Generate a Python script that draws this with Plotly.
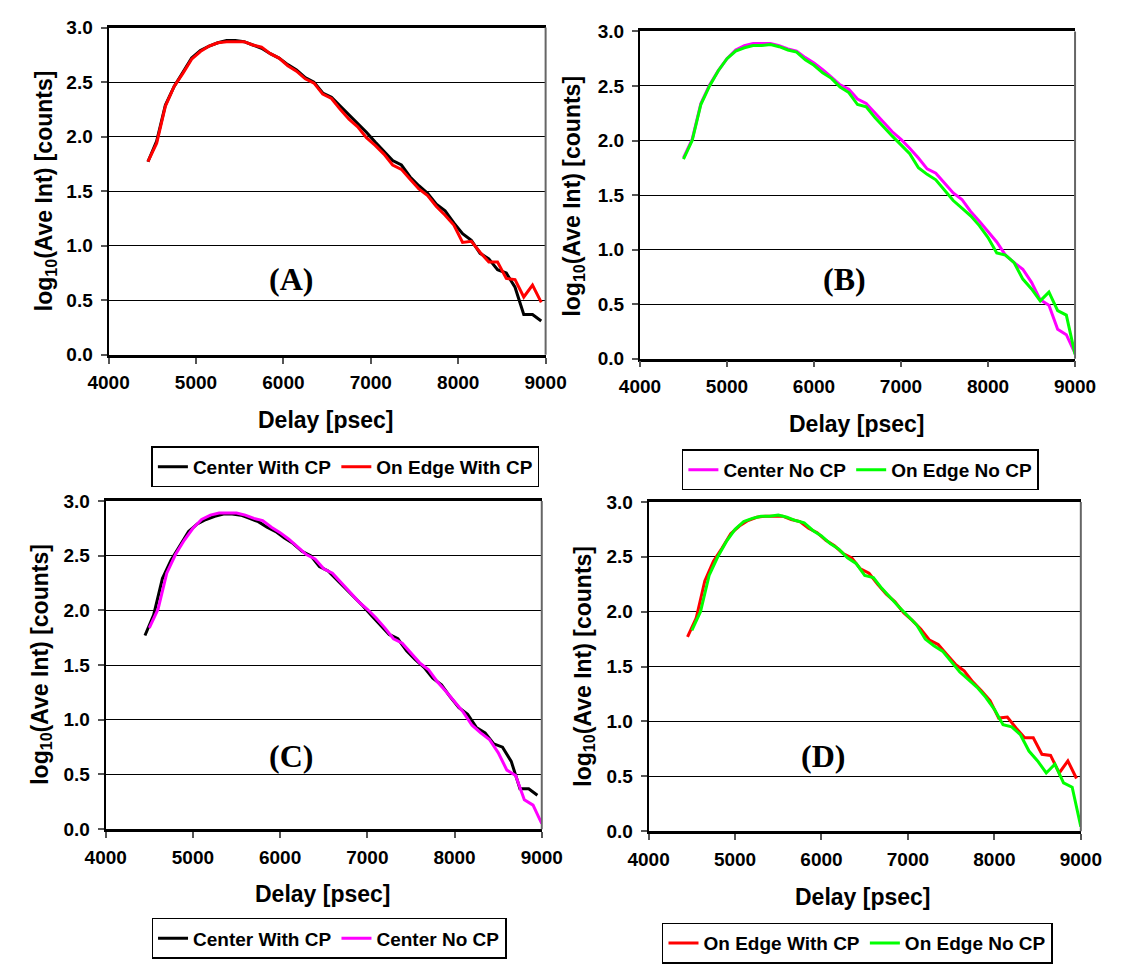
import plotly.graph_objects as go

# Delay grids (psec)
delay_with_cp = [4450 + 100 * i for i in range(46)]
delay_no_cp = [4500 + 100 * i for i in range(46)]

center_with_cp = [1.77, 1.96, 2.29, 2.46, 2.59, 2.72, 2.79, 2.83, 2.86, 2.88,
                  2.88, 2.87, 2.84, 2.81, 2.76, 2.72, 2.66, 2.61, 2.54, 2.50,
                  2.40, 2.36, 2.28, 2.20, 2.12, 2.04, 1.95, 1.86, 1.78, 1.74,
                  1.63, 1.55, 1.48, 1.38, 1.32, 1.21, 1.11, 1.05, 0.93, 0.88,
                  0.78, 0.75, 0.62, 0.37, 0.37, 0.31]
edge_with_cp = [1.77, 1.94, 2.28, 2.46, 2.58, 2.71, 2.78, 2.83, 2.86, 2.87,
                2.87, 2.87, 2.84, 2.82, 2.76, 2.72, 2.65, 2.60, 2.53, 2.49,
                2.39, 2.35, 2.25, 2.16, 2.09, 1.99, 1.92, 1.84, 1.74, 1.70,
                1.61, 1.52, 1.46, 1.36, 1.28, 1.19, 1.03, 1.04, 0.94, 0.85,
                0.85, 0.70, 0.69, 0.53, 0.64, 0.48]
center_no_cp = [1.84, 2.01, 2.34, 2.51, 2.64, 2.75, 2.83, 2.87, 2.89, 2.89,
                2.89, 2.87, 2.84, 2.82, 2.76, 2.71, 2.65, 2.58, 2.51, 2.47,
                2.38, 2.34, 2.25, 2.16, 2.08, 2.01, 1.93, 1.84, 1.74, 1.70,
                1.61, 1.52, 1.46, 1.35, 1.26, 1.16, 1.07, 0.95, 0.88, 0.82,
                0.70, 0.54, 0.49, 0.27, 0.22, 0.05]
edge_no_cp = [1.83, 2.00, 2.33, 2.50, 2.64, 2.75, 2.82, 2.85, 2.87, 2.87,
              2.88, 2.86, 2.83, 2.81, 2.74, 2.69, 2.62, 2.57, 2.49, 2.44,
              2.33, 2.31, 2.21, 2.12, 2.04, 1.96, 1.88, 1.75, 1.69, 1.64,
              1.55, 1.45, 1.38, 1.31, 1.22, 1.11, 0.97, 0.95, 0.88, 0.73,
              0.64, 0.53, 0.61, 0.44, 0.40, 0.04]

x_ticks = [4000, 5000, 6000, 7000, 8000, 9000]
y_ticks = [0.0, 0.5, 1.0, 1.5, 2.0, 2.5, 3.0]
panel_names = ["(A)", "(B)", "(C)", "(D)"]

COLORS = {"Center With CP": "#000000", "On Edge With CP": "#FF0000",
          "Center No CP": "#FF00FF", "On Edge No CP": "#00FF00"}
SERIES = {"Center With CP": (delay_with_cp, center_with_cp),
          "On Edge With CP": (delay_with_cp, edge_with_cp),
          "Center No CP": (delay_no_cp, center_no_cp),
          "On Edge No CP": (delay_no_cp, edge_no_cp)}

W, H = 1123, 964
SANS = "Liberation Sans, Arial, sans-serif"
SERIF = "Liberation Serif, Times New Roman, serif"

# pixel boxes of each plot area: (left, right, top, bottom)
panels = [
    dict(box=(91, 545, 18, 354), pair=("Center With CP", "On Edge With CP"),
         legend=(337, 448), xt=(317, 421), yt=(25, 186), lab=(281, 276)),
    dict(box=(643, 1095, 22, 358), pair=("Center No CP", "On Edge No CP"),
         legend=(872, 451), xt=(868, 425), yt=(574, 191), lab=(856, 276)),
    dict(box=(88, 541, 504, 841), pair=("Center With CP", "Center No CP"),
         legend=(320, 932), xt=(314, 908), yt=(21, 672), lab=(281, 766)),
    dict(box=(652, 1101, 505, 843), pair=("On Edge With CP", "On Edge No CP"),
         legend=(869, 937), xt=(875, 911), yt=(585, 674), lab=(833, 766)),
]

fig = go.Figure()
annotations = []
shapes = []
layout = {}

for k, p in enumerate(panels):
    n = "" if k == 0 else str(k + 1)
    l, r, t, b = p["box"]
    leg = "legend" + n
    for name in p["pair"]:
        xs, ys = SERIES[name]
        fig.add_trace(go.Scatter(
            x=xs, y=ys, mode="lines", name=name,
            line=dict(color=COLORS[name], width=3),
            xaxis="x" + n, yaxis="y" + n, legend=leg))
    layout["xaxis" + n] = dict(
        domain=[l / W, r / W], anchor="y" + n, range=[4000, 9000],
        tickvals=x_ticks, ticktext=[str(v) for v in x_ticks],
        ticks="outside", ticklen=6, tickcolor="#555", tickwidth=1.5,
        ticklabelstandoff=3,
        showgrid=False, zeroline=False, showline=True, linecolor="#000",
        linewidth=2.5, mirror=True,
        tickfont=dict(family=SANS, size=19, color="#000", weight="bold"))
    layout["yaxis" + n] = dict(
        domain=[1 - b / H, 1 - t / H], anchor="x" + n, range=[0, 3],
        tickvals=y_ticks, ticktext=[f"{v:.1f}" for v in y_ticks],
        ticks="outside", ticklen=6, tickcolor="#555", tickwidth=1.5,
        ticklabelstandoff=4,
        showgrid=True, gridcolor="#000", gridwidth=1, zeroline=False,
        showline=True, linecolor="#000", linewidth=2, mirror=False,
        tickfont=dict(family=SANS, size=19, color="#000", weight="bold"))
    # right-hand frame edge in grey
    shapes.append(dict(
        type="line", xref=f"x{n} domain", yref=f"y{n} domain",
        x0=1, x1=1, y0=0, y1=1, line=dict(color="#666", width=2)))
    layout[leg] = dict(
        x=p["legend"][0] / W, y=1 - p["legend"][1] / H,
        xanchor="center", yanchor="top", orientation="h",
        bgcolor="#fff", bordercolor="#000", borderwidth=1.5,
        font=dict(family=SANS, size=19, color="#000", weight="bold"),
        itemwidth=30, tracegroupgap=0)
    annotations.append(dict(
        x=p["xt"][0] / W, y=1 - p["xt"][1] / H, xref="paper", yref="paper",
        text="Delay [psec]", showarrow=False, xanchor="center", yanchor="middle",
        font=dict(family=SANS, size=23, color="#000", weight="bold")))
    annotations.append(dict(
        x=p["yt"][0] / W, y=1 - p["yt"][1] / H, xref="paper", yref="paper",
        text="log<sub>10</sub>(Ave Int) [counts]", textangle=-90,
        showarrow=False, xanchor="center", yanchor="middle",
        font=dict(family=SANS, size=23, color="#000", weight="bold")))
    annotations.append(dict(
        x=p["lab"][0] / W, y=1 - p["lab"][1] / H, xref="paper", yref="paper",
        text=panel_names[k], showarrow=False, xanchor="center", yanchor="middle",
        font=dict(family=SERIF, size=32, color="#000", weight="bold")))

fig.update_layout(
    width=W, height=H, margin=dict(l=0, r=0, t=0, b=0),
    paper_bgcolor="#fff", plot_bgcolor="#fff",
    annotations=annotations, shapes=shapes, **layout)

fig.write_html("out.html")
